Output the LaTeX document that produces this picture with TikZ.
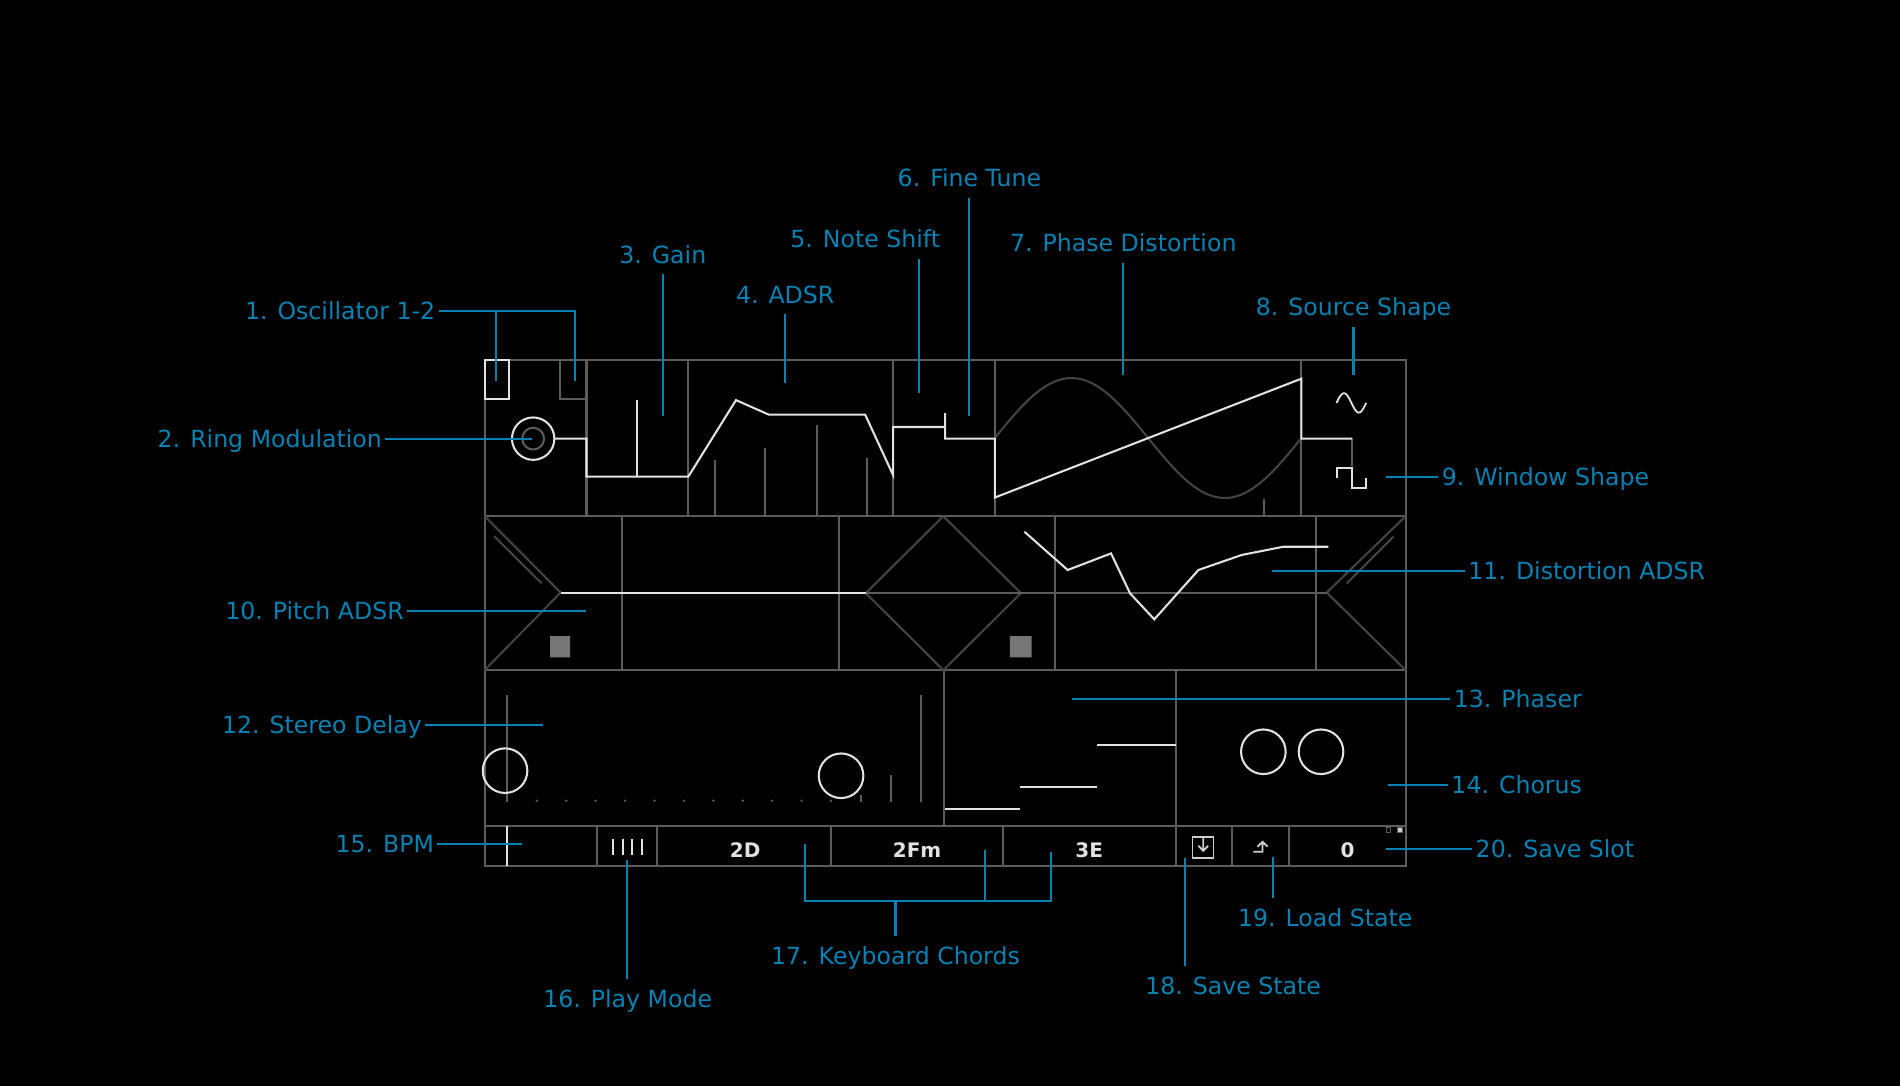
\documentclass[tikz,border=0pt]{standalone}
\usepackage{fontspec}
\setmainfont{DejaVu Sans}
\definecolor{leadblue}{RGB}{8,130,178}
\definecolor{panelgray}{RGB}{92,92,92}
\definecolor{dimgray}{RGB}{68,68,68}
\definecolor{squaregray}{RGB}{118,118,118}
\definecolor{signalwhite}{RGB}{226,226,226}
\definecolor{icongray}{RGB}{205,205,205}
\begin{document}
\begin{tikzpicture}[x=1pt,y=-1pt,line width=1.7pt,
 panel line/.style={draw=panelgray},
 dim line/.style={draw=dimgray},
 signal line/.style={draw=signalwhite},
 icon line/.style={draw=icongray,line width=1.5pt},
 lead line/.style={draw=leadblue},
 label node/.style={text=leadblue,font=\fontsize{19.5}{23}\selectfont,
   inner xsep=2pt,inner ysep=8.5pt,text height=14.2pt,text depth=0pt},
 key node/.style={text=signalwhite,font=\bfseries\fontsize{16.5}{20}\selectfont,
   inner sep=0pt,text height=12.1pt,text depth=0pt}]
\useasboundingbox (0,0) rectangle (1568,896);
\fill[black] (0,0) rectangle (1568,896);

% panel grid
\draw[panel line] (400,297) rectangle (1160,715);
\foreach \y in {426,553,682} \draw[panel line] (400,\y) -- (1160,\y);
\foreach \x/\a/\b in {484/297/426, 568/297/426, 737/297/426, 821/297/426, 1074/297/426,
   513/426/553, 692.4/426/553, 870.7/426/553, 1085.8/426/553,
   779/553/682, 970.3/553/682,
   492.4/682/715, 541.9/682/715, 685.6/682/715, 828/682/715,
   970.3/682/715, 1016.5/682/715, 1063.8/682/715}
   \draw[panel line] (\x,\a) -- (\x,\b);

% top row
\foreach \x/\a in {590/379.5, 631.3/370, 674/350.5, 715.7/378, 1042.9/412}
   \draw[panel line] (\x,\a) -- (\x,426);
\draw[panel line] (462,297) -- (462,329) -- (484,329);
\draw[panel line] (440,362) circle[radius=9pt];
\draw[panel line] (1116,362) -- (1116,384.6);
\draw[dim line] plot[domain=0:360,samples=72,smooth] ({821+0.70278*\x},{361.5-49.5*sin(\x)});
\draw[signal line] (400,297) rectangle (420,329);
\draw[signal line] (440,362) circle[radius=17.5pt];
\draw[signal line] (458,362) -- (484,362) -- (484,393.4) -- (568,393.4) -- (607.4,330.2)
   -- (634.5,342.2) -- (714,342.2) -- (737,392) -- (737,352.4) -- (780,352.4);
\draw[signal line] (780,341) -- (780,362) -- (821,362) -- (821,410.6) -- (1074,312.5)
   -- (1074,362) -- (1116,362);
\draw[signal line] (525.4,330) -- (525.4,393.4);
\draw[signal line] (1103.2,394.8) -- (1103.2,386.5) -- (1115.5,386.5) -- (1115.5,403)
   -- (1127.1,403) -- (1127.1,394.8);
\draw[signal line,line width=1.5pt] plot[domain=0:360,samples=40,smooth] ({1103+0.06806*\x},{332.5-8*sin(\x)});

% middle row
\draw[dim line] (400,426) -- (462.7,489) -- (400,553) (407.7,442.4) -- (447,481.4);
\draw[dim line] (1160,426) -- (1094.9,489) -- (1160,553) (1149.9,442.9) -- (1111.4,481.4);
\draw[dim line] (778.5,426) -- (842.5,489.5) -- (778.5,553) -- (714.5,489.5) -- cycle;
\draw[panel line] (714.7,489) -- (1094.9,489);
\fill[squaregray] (454,525) rectangle (470.4,542.5) (833.5,525) rectangle (851.4,542.5);
\draw[signal line] (462.7,489) -- (714.7,489);
\draw[signal line] (845.4,438.8) -- (881.1,470.4) -- (916.9,456.7) -- (932.6,489.7)
   -- (952.6,511.1) -- (989,470.4) -- (1024.7,458) -- (1059.1,451.2) -- (1096.2,451.2);

% effects row
\draw[panel line] (418.2,573.6) -- (418.2,661.6) (710.3,656) -- (710.3,661.6)
   (735.4,639.6) -- (735.4,661.6) (760.1,573.6) -- (760.1,661.6);
\foreach \i in {0,...,10} \fill[panelgray] ({443+24.28*\i},660.8) circle[radius=1.1pt];
\draw[signal line] (416.8,636) circle[radius=18.4pt] (694.1,640.2) circle[radius=18.4pt]
   (1042.6,620.4) circle[radius=18.4pt] (1090.2,620.4) circle[radius=18.4pt];
\draw[signal line] (779.9,667.7) -- (841.8,667.7) (841.8,649.2) -- (905.6,649.2)
   (905.6,614.9) -- (970.3,614.9);

% bottom bar
\draw[signal line] (418.2,682) -- (418.2,715);
\foreach \x in {505.6,513.9,521.3,529.6} \draw[signal line] (\x,692.7) -- (\x,705.6);
\node[key node] (chordone) at (614.9,702) {2D};
\node[key node] (chordtwo) at (756.8,702) {2Fm};
\node[key node] (chordthree) at (898.9,702) {3E};
\node[key node] (slotnum) at (1112.1,702) {0};
\draw[icon line] (984.1,690.5) rectangle (1001.4,707.9);
\draw[icon line] (993,690.5) -- (993,702) (989,698) -- (993,702.2) -- (997,698);
\draw[icon line] (1034.4,702.9) -- (1041.9,702.9) -- (1041.9,695.5)
   (1037.7,698.8) -- (1041.9,694.7) -- (1046.1,698.8);
\draw[panel line,line width=1pt] (1144,682.5) rectangle (1147.8,686.8);
\filldraw[draw=panelgray,fill=icongray,line width=1pt] (1153.3,682.5) rectangle (1157.7,686.8);

% labels
\node[label node,anchor=east] (osc) at (362,256.7) {1. Oscillator 1-2};
\node[label node,anchor=east] (ring) at (318,362.3) {2. Ring Modulation};
\node[label node] (gain) at (547,210) {3. Gain};
\node[label node] (adsr) at (648,243) {4. ADSR};
\node[label node] (shift) at (714,197) {5. Note Shift};
\node[label node] (tune) at (800,146.6) {6. Fine Tune};
\node[label node] (phase) at (927,200.4) {7. Phase Distortion};
\node[label node] (source) at (1117,253.5) {8. Source Shape};
\node[label node,anchor=west] (window) at (1187,393.4) {9. Window Shape};
\node[label node,anchor=east] (pitch) at (336,504) {10. Pitch ADSR};
\node[label node,anchor=west] (dist) at (1209,471.2) {11. Distortion ADSR};
\node[label node,anchor=east] (delay) at (351,598.3) {12. Stereo Delay};
\node[label node,anchor=west] (phaser) at (1197,576.9) {13. Phaser};
\node[label node,anchor=west] (chorus) at (1195,647.9) {14. Chorus};
\node[label node,anchor=east] (bpm) at (361,696.8) {15. BPM};
\node[label node] (mode) at (518,824) {16. Play Mode};
\node[label node] (chords) at (739,788.7) {17. Keyboard Chords};
\node[label node] (save) at (1017.7,813.8) {18. Save State};
\node[label node] (load) at (1093.7,757.3) {19. Load State};
\node[label node,anchor=west] (slot) at (1215,700.4) {20. Save Slot};

\coordinate (osconept) at (409.7,314.5);
\coordinate (osctwopt) at (474.3,314.5);
\coordinate (ringpt) at (438.8,362.3);
\coordinate (gainpt) at (547,343);
\coordinate (adsrpt) at (648,316);
\coordinate (shiftpt) at (758.2,324.5);
\coordinate (tunept) at (800,343);
\coordinate (phasept) at (927,309.5);
\coordinate (sourcept) at (1117,309.5);
\coordinate (windowpt) at (1144,393.4);
\coordinate (pitchpt) at (483.6,504);
\coordinate (distpt) at (1050,471.2);
\coordinate (delaypt) at (448.4,598.3);
\coordinate (phaserpt) at (885,576.9);
\coordinate (choruspt) at (1145.8,647.9);
\coordinate (bpmpt) at (430.5,696.8);
\coordinate (modept) at (517.5,710);
\coordinate (chordonept) at (664.4,696.6);
\coordinate (chordtwopt) at (813,701.5);
\coordinate (chordthreept) at (867.2,703.4);
\coordinate (chordbar) at (739,743.5);
\coordinate (savept) at (978.3,708.3);
\coordinate (loadpt) at (1050.2,707);
\coordinate (slotpt) at (1143.8,700.4);

% leaders
\path[lead line] (ring) edge (ringpt) (gain) edge (gainpt) (adsr) edge (adsrpt)
   (tune) edge (tunept) (phase) edge (phasept) (source) edge (sourcept)
   (window) edge (windowpt) (pitch) edge (pitchpt) (dist) edge (distpt)
   (delay) edge (delaypt) (phaser) edge (phaserpt) (chorus) edge (choruspt)
   (bpm) edge (bpmpt) (slot) edge (slotpt) (chordbar) edge (chords);
\draw[lead line] (osc.east) -| (osctwopt) (osconept |- osc.east) -- (osconept);
\draw[lead line] (shiftpt |- shift.south) -- (shiftpt);
\draw[lead line] (chordonept) |- (chordbar) -| (chordthreept) (chordtwopt) -- (chordtwopt |- chordbar);
\draw[lead line] (modept) -- (modept |- mode.north) (savept) -- (savept |- save.north)
   (loadpt) -- (loadpt |- load.north);
\end{tikzpicture}
\end{document}
